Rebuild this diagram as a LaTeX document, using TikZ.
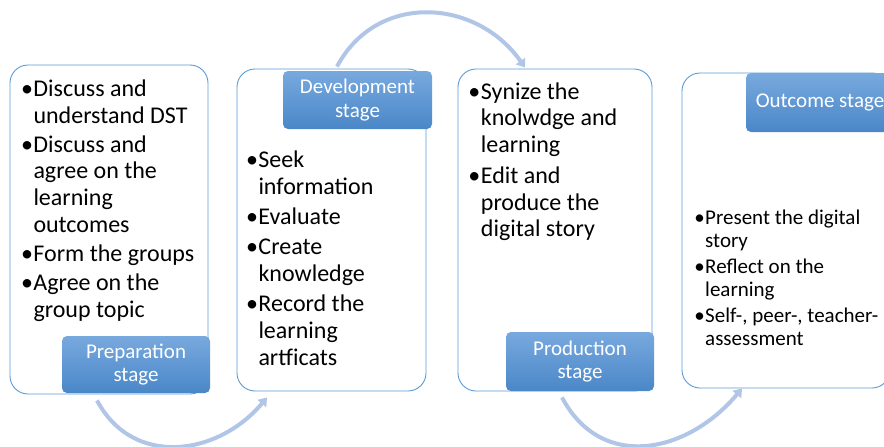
\documentclass[tikz,border=0pt]{standalone}
\usepackage{fontspec}
\setmainfont{Carlito}
\usetikzlibrary{arrows.meta,shadings}
\definecolor{stageline}{HTML}{5B9BD5}
\definecolor{stagetop}{HTML}{78A9DE}
\definecolor{stagebot}{HTML}{4A87C8}
\definecolor{flow}{HTML}{B1C6E6}
\tikzstyle{stagebox} = [draw=stageline, line width=0.9pt, fill=white, rectangle, rounded corners=18pt, inner sep=0pt]
\tikzstyle{stagelabel} = [rectangle, rounded corners=5pt, top color=stagetop, bottom color=stagebot, text=white, align=center, inner sep=0pt, font=\fontsize{21}{23.5}\selectfont]
\tikzstyle{items} = [anchor=north west, align=left, inner sep=0pt, font=\fontsize{24}{26.7}\selectfont]
\tikzstyle{smallitems} = [items, font=\fontsize{21}{23.7}\selectfont]
\tikzstyle{flowline} = [draw=flow, line width=4pt, -{Triangle[length=8pt,width=11pt]}]
\newcommand{\bul}{\makebox[13pt][c]{\textbullet}}
\newcommand{\ind}{\hspace*{13pt}}
\newcommand{\sbul}{\makebox[11pt][c]{\textbullet}}
\newcommand{\sind}{\hspace*{11pt}}

\begin{document}
\begin{tikzpicture}[x=1pt, y=1pt]
    \useasboundingbox (0,0) rectangle (884,-447);
    % the four stage boxes
    \node[stagebox, minimum width=198pt, minimum height=329pt] (prep) at (109,-229.5) {};
    \node[stagebox, minimum width=189pt, minimum height=322pt] (dev) at (331.5,-230) {};
    \node[stagebox, minimum width=194pt, minimum height=322pt] (prod) at (555,-230) {};
    \node[stagebox, minimum width=208pt, minimum height=315pt] (out) at (786,-230.5) {};
    % bullet lists
    \node[items] (preptext) at (20.3,-79.5) {\bul Discuss and\\ \ind understand DST\\[2.5pt]
        \bul Discuss and\\ \ind agree on the\\ \ind learning\\ \ind outcomes\\[2.5pt]
        \bul Form the groups\\[2.5pt]
        \bul Agree on the\\ \ind group topic};
    \node[items] (devtext) at (245.3,-151) {\bul Seek\\ \ind information\\[3.5pt]
        \bul Evaluate\\[3.5pt]
        \bul Create\\ \ind knowledge\\[3.5pt]
        \bul Record the\\ \ind learning\\ \ind artficats};
    \node[items] (prodtext) at (467.7,-82.4) {\bul Synize the\\ \ind knolwdge and\\ \ind learning\\[4pt]
        \bul Edit and\\ \ind produce the\\ \ind digital story};
    \node[smallitems] (outtext) at (694,-209.5) {\sbul Present the digital\\ \sind story\\[1.5pt]
        \sbul Reflect on the\\ \sind learning\\[1.5pt]
        \sbul Self-, peer-, teacher-\\ \sind assessment};
    % stage labels
    \node[stagelabel, minimum width=148pt, minimum height=57pt] (preplabel) at (136,-364.5) {Preparation\\stage};
    \node[stagelabel, minimum width=149pt, minimum height=58pt] (devlabel) at (357.5,-100) {Development\\stage};
    \node[stagelabel, minimum width=148pt, minimum height=59pt] (prodlabel) at (580,-361.5) {Production\\stage};
    \node[stagelabel, minimum width=148pt, minimum height=59pt] (outlabel) at (820,-102.5) {Outcome stage};
    % arrows between stages
    \path[flowline] ([shift={(-12,-6)}]prep.south) to[out=-62, in=-130, looseness=1.15] ([shift={(-64.5,-6)}]dev.south);
    \path[flowline] ([shift={(5.5,2)}]dev.north) to[out=62, in=125, looseness=1.15] ([shift={(-30,1)}]prod.north);
    \path[flowline] ([shift={(7,-6)}]prod.south) to[out=-62, in=-130, looseness=1.2] ([shift={(-44,0)}]out.south);
\end{tikzpicture}
\end{document}
